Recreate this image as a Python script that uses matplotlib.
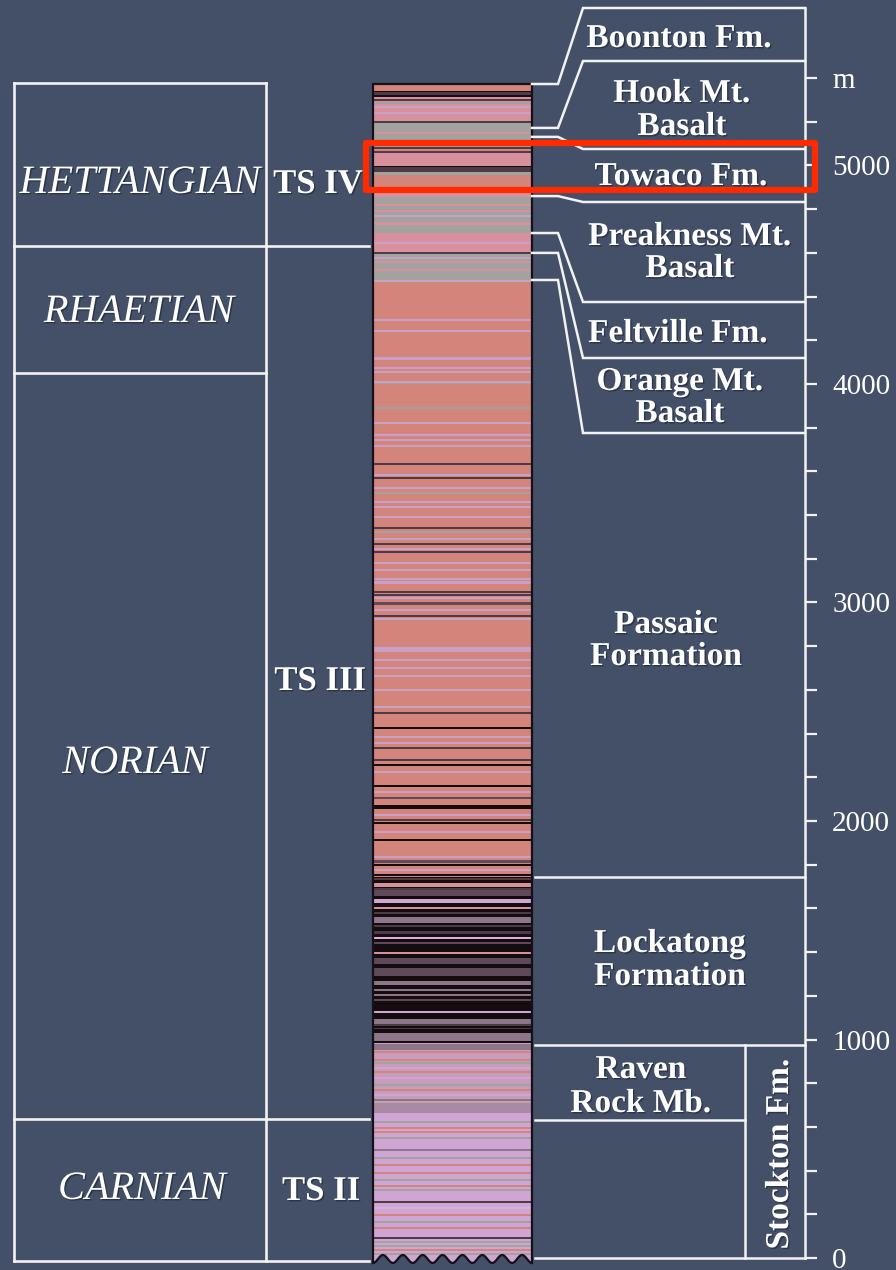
import numpy as np
import matplotlib
matplotlib.use("Agg")
import matplotlib.pyplot as plt
from matplotlib.patches import Polygon, Rectangle
import matplotlib.patheffects as pe

# ----------------------------- data (metres) -----------------------------
stage_names = ["HETTANGIAN", "RHAETIAN", "NORIAN", "CARNIAN"]
stage_tops_m = [5378, 4631, 4050, 636]
stage_base_m = -14

sequence_names = ["TS IV", "TS III", "TS II"]
sequence_tops_m = [5378, 4631, 636]

formation_names = ["Boonton Fm.", "Hook Mt.\nBasalt", "Towaco Fm.",
                   "Preakness Mt.\nBasalt", "Feltville Fm.", "Orange Mt.\nBasalt",
                   "Passaic\nFormation", "Lockatong\nFormation",
                   "Raven\nRock Mb.", "Stockton Fm."]
# contacts in the column (top of each unit)
formation_tops_m = [5373, 5172, 5131, 4860, 4691, 4600, 4476, 1744, 975]
raven_rock_base_m = 632

# base lithology zones of the column
zone_bottoms_m = [0, 664, 984, 1744, 4476, 4600, 4691, 4856, 5080, 5172]
zone_tops_m = [664, 984, 1744, 4476, 4600, 4691, 4856, 5080, 5172, 5373]
zone_kinds = ["lil", "stk", "blk", "sal", "gry", "pnk", "gry", "sal", "gry", "pnk"]

# individual beds (centre depth, thickness, colour class)
stripe_depths_m = [
    # Boonton
    5357, 5327, 5338, 5318, 5300, 5286, 5268, 5241, 5199, 5184,
    # Hook Mt
    5149, 5104, 5080, 5062,
    # Towaco
    5025, 4993, 4982, 4964, 4879,
    # Preakness
    4820, 4790, 4770, 4735,
    # Feltville
    4646, 4600,
    # Orange Mt
    4576, 4559, 4522, 4472,
    # Passaic
    4293, 4243, 4117, 4073, 4055, 4009, 4003, 3890, 3822, 3767, 3744, 3716,
    3634, 3584, 3570, 3524, 3501, 3460, 3437, 3392, 3341, 3323, 3291, 3268,
    3245, 3231, 3181, 3149, 3108, 3090, 3048, 3035, 3021, 2995, 2966, 2938,
    2925, 2785, 2737, 2700, 2664, 2600, 2522, 2494, 2425, 2385, 2357, 2334,
    2279, 2256, 2224, 2160, 2133, 2105, 2064, 2028, 2005, 1991, 1950, 1913,
    1835, 1815, 1799, 1776, 1753,
    # Lockatong
    1735, 1707, 1690, 1670, 1634, 1602, 1580, 1547, 1520, 1490, 1465, 1440,
    1396, 1359, 1309, 1260, 1227, 1204, 1180, 1126, 1080, 1066, 1050, 1010, 987,
    # Stockton (upper)
    966, 943, 906, 893, 870, 851, 824, 792, 769, 746, 723, 686,
    # Stockton (lower)
    622, 595, 577, 549, 494, 458, 426, 389, 357, 330, 311, 256, 229, 197,
    165, 137, 92, 73, 55, 37, 18,
]
stripe_thick_m = [
    32, 27, 6, 6, 7, 8, 10, 10, 8, 22,
    8, 8, 8, 8,
    60, 6, 22, 14, 46,
    12, 10, 10, 12,
    10, 7,
    10, 10, 12, 8,
    11, 9, 16, 10, 8, 11, 7, 12, 11, 9, 9, 9,
    7, 9, 7, 11, 7, 11, 9, 11, 7, 9, 11, 7,
    11, 7, 11, 9, 11, 14, 8, 7, 9, 14, 9, 7,
    9, 22, 11, 11, 12, 11, 11, 7, 12, 9, 9, 7,
    7, 7, 11, 7, 9, 8, 18, 9, 7, 7, 11, 8,
    11, 14, 6, 11, 7,
    10, 14, 8, 30, 14, 8, 8, 26, 8, 10, 9, 8,
    8, 30, 40, 18, 7, 7, 8, 9, 28, 6, 6, 38, 6,
    30, 9, 9, 6, 9, 9, 9, 8, 9, 9, 8, 44,
    7, 8, 7, 7, 7, 7, 8, 9, 7, 8, 7, 8, 7, 8,
    7, 8, 8, 7, 7, 8, 7,
]
stripe_kinds = [
    "sal", "drk", "blk", "blk", "drk", "gry", "lav", "lav", "drk", "gry",
    "pnk", "pnk", "drk", "drk",
    "pnk", "blk", "drk", "gry", "pnk",
    "pnk", "pnk", "lav", "pnk",
    "lav", "drk",
    "lav", "pnk", "pnk", "lav",
    "lav", "lav", "lav", "lav", "lav", "lav", "gry", "gry", "lav", "lav", "lav", "lav",
    "drk", "lav", "drk", "lav", "gry", "lav", "lav", "lav", "drk", "gry", "lav", "drk",
    "lav", "drk", "lav", "lav", "lav", "lav", "drk", "drk", "lav", "drk2", "lav", "drk",
    "lav", "lav", "lav", "lav", "lav", "lav", "lav", "drk", "blk", "lav", "lav", "drk",
    "drk", "blk", "lav", "blk", "lav", "drk2", "blk", "lav", "drk", "blk", "lav", "blk",
    "lav", "drk2", "blk", "lav", "blk",
    "drk", "pnk", "drk", "drk2", "lil", "pnk", "drk", "mau", "drk", "drk", "lpk", "drk2",
    "pnk", "drk2", "drk2", "mau", "mau", "mau", "drk2", "lil", "mau", "drk", "drk", "mau", "blk",
    "mau", "sal", "sal", "gry", "lil", "sal", "lil", "gry", "sal", "lil", "gryg", "mau2",
    "gry", "sal", "sal", "gry", "mau", "gry", "sal", "sal", "gry", "sal", "gry", "drk", "lil2", "sal",
    "gry", "sal", "drk", "gry", "gry", "sal", "gry",
]

depth_ticks = [0, 1000, 2000, 3000, 4000, 5000, 5400]
depth_tick_labels = ["0", "1000", "2000", "3000", "4000", "5000", "m"]
minor_depth_ticks = [200, 400, 600, 800, 1200, 1400, 1600, 1800, 2200, 2400,
                     2600, 2800, 3200, 3400, 3600, 3800, 4200, 4400, 4600,
                     4800, 5200]

# ----------------------------- styling -----------------------------------
BG = "#435068"
LINE = "#f2f2f2"
COLORS = {
    "sal": "#d4857b", "pnk": "#d8909c", "lav": "#c8a0c8", "gry": "#a2a29e",
    "drk": "#4d3c47", "drk2": "#5e4a58", "blk": "#140d10", "mau": "#8d7689",
    "mau2": "#a88aa4", "lil": "#cfa5d3", "lil2": "#d8b0dc", "lpk": "#e6a8de",
    "stk": "#c89cbd", "gryg": "#7d7f78",
}
SERIF = "Liberation Serif"

S = 0.2185      # pixels per metre
Y0 = 1258       # pixel row of 0 m


def M(ypx):
    return (Y0 - ypx) / S


fig = plt.figure(figsize=(8.96, 12.7), dpi=100, facecolor=BG)
ax = fig.add_axes([0, 0, 1, 1])
ax.set_facecolor(BG)
ax.set_xlim(0, 896)
ax.set_ylim(M(1270), M(0))

shadow = [pe.withSimplePatchShadow(offset=(1, -1), shadow_rgbFace="#1c2433", alpha=0.6)]

# ----------------------------- column ------------------------------------
CX0, CX1 = 373, 532
top_m = zone_tops_m[-1]
wx = np.linspace(CX1, CX0, 120)
wy = [M(1259 + 4 * np.cos(2 * np.pi * 8 * (x - CX0) / (CX1 - CX0))) for x in wx]
poly_xy = [(CX0, top_m), (CX1, top_m)] + list(zip(wx, wy))
clip = Polygon(poly_xy, closed=True, facecolor="none", edgecolor="none",
               transform=ax.transData)
ax.add_patch(clip)

bars = ax.barh([(b + t) / 2 for b, t in zip(zone_bottoms_m, zone_tops_m)],
               width=CX1 - CX0, left=CX0,
               height=[t - b for b, t in zip(zone_bottoms_m, zone_tops_m)],
               color=[COLORS[k] for k in zone_kinds], linewidth=0)
for b in bars:
    b.set_clip_path(clip)
# extend the base of the column below 0 into the wavy edge
ext = ax.barh(M(1259), width=CX1 - CX0, left=CX0, height=M(1250) - M(1266),
              color=COLORS["lil"], linewidth=0)
for b in ext:
    b.set_clip_path(clip)
sbars = ax.barh(stripe_depths_m, width=CX1 - CX0, left=CX0, height=stripe_thick_m,
                color=[COLORS[k] for k in stripe_kinds], linewidth=0)
for b in sbars:
    b.set_clip_path(clip)
ax.add_patch(Polygon(poly_xy, closed=True, facecolor="none",
                     edgecolor="#16101a", linewidth=1.6))

# ----------------------------- left table --------------------------------
LX0, LX1, LX2 = 14, 266, 369
lw_tab = 1.9
ax.plot([LX0, LX0], [stage_tops_m[0], stage_base_m], color=LINE, lw=lw_tab)
ax.plot([LX1, LX1], [stage_tops_m[0], stage_base_m], color=LINE, lw=lw_tab)
ax.plot([LX0, LX1], [stage_tops_m[0]] * 2, color=LINE, lw=lw_tab)
for t in stage_tops_m[1:]:
    xr = LX2 if t in sequence_tops_m else LX1
    ax.plot([LX0, xr], [t, t], color=LINE, lw=lw_tab)
ax.plot([LX0, LX2], [stage_base_m] * 2, color=LINE, lw=lw_tab)

stage_label_x = [140, 139, 135, 142]
stage_label_base_px = [193, 322, 773, 1199]
for name, x, yb in zip(stage_names, stage_label_x, stage_label_base_px):
    ax.text(x, M(yb), name, ha="center", va="baseline", fontsize=29,
            fontfamily=SERIF, fontstyle="italic", color="white",
            path_effects=shadow)

seq_label_x = [318, 320, 321]
seq_label_base_px = [193, 690, 1200]
for name, x, yb in zip(sequence_names, seq_label_x, seq_label_base_px):
    ax.text(x, M(yb), name, ha="center", va="baseline", fontsize=25,
            fontfamily=SERIF, fontweight="bold", color="white",
            path_effects=shadow)

# ----------------------------- right boxes -------------------------------
AX = 805
BX_L = 583
KX = 558
box_edges_px = [8, 61, 149, 202, 302, 358, 433]
lw_r = 1.8
for cm, ypx in zip(formation_tops_m[:7], box_edges_px):
    ax.plot([CX1, KX, BX_L, AX], [cm, cm, M(ypx), M(ypx)], color=LINE, lw=lw_r,
            solid_joinstyle="miter")
ax.plot([535, AX], [formation_tops_m[7]] * 2, color=LINE, lw=lw_r)
ax.plot([535, AX], [formation_tops_m[8]] * 2, color=LINE, lw=lw_r)
ax.plot([535, 745], [raven_rock_base_m] * 2, color=LINE, lw=lw_r)
ax.plot([745, 745], [formation_tops_m[8], 0], color=LINE, lw=lw_r)
ax.plot([535, AX], [0, 0], color=LINE, lw=lw_r)

label_x = [679, 682, 681, 690, 678, 680, 666, 670, 641]
label_base_px = [[47], [102, 135], [185], [245, 277], [342], [390, 422],
                 [633, 665], [952, 985], [1078, 1112]]
for name, x, bases in zip(formation_names[:9], label_x, label_base_px):
    for line, yb in zip(name.split("\n"), bases):
        ax.text(x, M(yb), line, ha="center", va="baseline", fontsize=24,
                fontfamily=SERIF, fontweight="bold", color="white",
                path_effects=shadow)
ax.text(788, M(1154), formation_names[9], ha="center", va="baseline",
        rotation=90, rotation_mode="anchor", fontsize=24, fontfamily=SERIF,
        fontweight="bold", color="white", path_effects=shadow)

# ----------------------------- depth axis --------------------------------
for s in ["left", "top", "bottom"]:
    ax.spines[s].set_visible(False)
ax.xaxis.set_visible(False)
ax.spines["right"].set_position(("data", AX))
ax.spines["right"].set_bounds(0, M(8))
ax.spines["right"].set_color(LINE)
ax.spines["right"].set_linewidth(1.8)
ax.yaxis.set_ticks_position("right")
ax.set_yticks(depth_ticks, labels=depth_tick_labels, fontsize=21, fontfamily=SERIF)
ax.set_yticks(minor_depth_ticks, minor=True)
ax.tick_params(axis="y", which="both", direction="out", length=8.6, width=1.6,
               colors=LINE, labelcolor="white", pad=11)

# ----------------------------- highlight ---------------------------------
ax.add_patch(Rectangle((366, M(190)), 815 - 366, M(143) - M(190), fill=False,
                       edgecolor="#ff2a00", linewidth=4.5, joinstyle="round",
                       zorder=10))

fig.savefig("out.png", dpi=100, facecolor=BG)
